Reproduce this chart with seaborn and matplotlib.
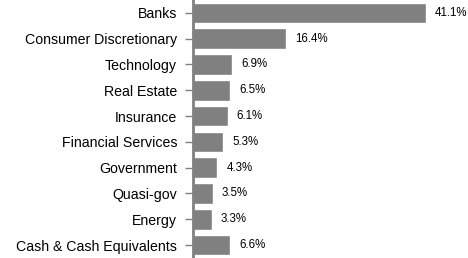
import matplotlib
matplotlib.use("Agg")
import matplotlib.pyplot as plt
import seaborn as sns
import pandas as pd

categories = ["Banks", "Consumer Discretionary", "Technology", "Real Estate", "Insurance",
              "Financial Services", "Government", "Quasi-gov", "Energy", "Cash & Cash Equivalents"]
values = [41.1, 16.4, 6.9, 6.5, 6.1, 5.3, 4.3, 3.5, 3.3, 6.6]
labels = ["41.1%", "16.4%", "6.9%", "6.5%", "6.1%", "5.3%", "4.3%", "3.5%", "3.3%", "6.6%"]

sns.set_style("white")
plt.rcParams['font.family'] = ['Liberation Sans', 'DejaVu Sans']

df = pd.DataFrame({"cat": categories, "val": values})

fig = plt.figure(figsize=(4.68, 2.58), dpi=100)
ax = fig.add_axes([193/468, 0.0, 1 - 193/468, 1.0])
sns.barplot(data=df, x="val", y="cat", color="#808080", saturation=1, width=0.8, ax=ax, orient="h")

ax.set_xlim(0, 48.5)
ax.set_ylim(9.5, -0.5)
ax.set_xlabel("")
ax.set_ylabel("")
ax.set_xticks([])
for s in ["top", "right", "bottom"]:
    ax.spines[s].set_visible(False)
ax.spines["left"].set_color("#808080")
ax.spines["left"].set_linewidth(2)
ax.tick_params(axis="y", left=True, length=6, width=1, color="#808080", pad=5.5, labelsize=10.2, labelcolor="black")

for i, (v, t) in enumerate(zip(values, labels)):
    ax.text(v + 1.6, i, t, va="center", ha="left", fontsize=8.3, color="black")

fig.savefig("out.png", dpi=100)
